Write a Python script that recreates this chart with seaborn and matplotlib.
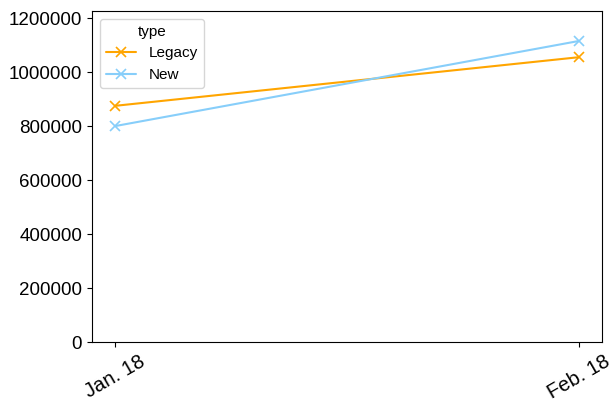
"""Legacy vs New monthly totals."""
import matplotlib
matplotlib.use('Agg')
import matplotlib.pyplot as plt
import pandas as pd
import seaborn as sns

sns.set_style('ticks', rc={'text.color': 'black', 'axes.labelcolor': 'black',
                           'xtick.color': 'black', 'ytick.color': 'black',
                           'axes.edgecolor': 'black'})
plt.rcParams['font.family'] = ['Liberation Sans', 'DejaVu Sans']

MONTHS = ['Jan. 18', 'Feb. 18']
LEGACY = [875000, 1055000]
NEW = [800000, 1115000]
PALETTE = {'Legacy': '#FFA500', 'New': '#87CEFA'}

df = pd.DataFrame({
    'month': MONTHS * 2,
    'value': LEGACY + NEW,
    'type': ['Legacy'] * len(MONTHS) + ['New'] * len(MONTHS),
})

fig, ax = plt.subplots(figsize=(6.09, 4.03), dpi=100)
sns.lineplot(data=df, x='month', y='value', hue='type', palette=PALETTE,
             marker='x', markersize=7, markeredgewidth=1.2, linewidth=1.5, ax=ax)
for line in ax.lines:
    line.set_markeredgecolor(line.get_color())

ax.set_ylim(0, max(LEGACY + NEW) * 1.1)
ax.ticklabel_format(style='plain', axis='y')
ax.set_xlabel('')
ax.set_ylabel('')
ax.tick_params(axis='y', labelsize=13.5)
ax.tick_params(axis='x', labelsize=14.5)
plt.setp(ax.get_xticklabels(), rotation=30)
ax.legend(title='type', loc='upper left', fontsize=11, title_fontsize=11)
for line in ax.get_legend().get_lines():
    line.set_markeredgecolor(line.get_color())

fig.subplots_adjust(left=0.151, right=0.9885, top=0.973, bottom=0.151)
fig.savefig('out.png', dpi=100)
